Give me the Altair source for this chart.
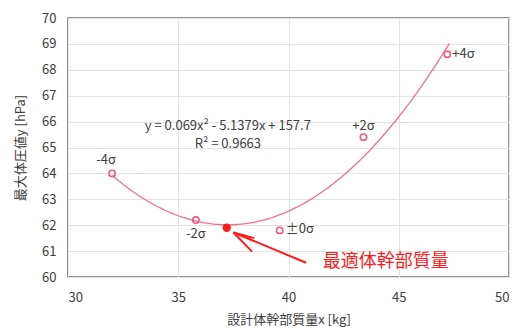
import altair as alt
import pandas as pd

# data
mass_kg = [32.0, 35.8, 39.6, 43.4, 47.2]
pressure_hpa = [64.0, 62.2, 61.8, 65.4, 68.6]
sigma_labels = ["-4σ", "-2σ", "±0σ", "+2σ", "+4σ"]

optimum_x = [37.2]
optimum_y = [61.9]
optimum_label = "最適体幹部質量"

# annotation arrow (data coordinates): shaft start, tip, head ends
arrow_start = [40.8, 60.55]
arrow_tip = [37.5, 61.72]
head_a = [38.45, 61.5]
head_b = [38.35, 60.98]

equation_text = "y = 0.069x² - 5.1379x + 157.7"
r2_text = "R² = 0.9663"

FONT = "Noto Sans CJK JP"
PINK = "#f0708f"
RED = "#ff1a1a"
TXT = "#404040"

df = pd.DataFrame({"x": mass_kg, "y": pressure_hpa, "label": sigma_labels})

xs = alt.Scale(domain=[30, 50], nice=False)
ys = alt.Scale(domain=[60, 70], nice=False)

X = alt.X("x:Q", scale=xs, title="設計体幹部質量x [kg]",
          axis=alt.Axis(values=[30, 35, 40, 45, 50], grid=True))
Y = alt.Y("y:Q", scale=ys, title="最大体圧値y [hPa]",
          axis=alt.Axis(values=list(range(60, 71)), grid=True))

base = alt.Chart(df)

trend = base.transform_regression("x", "y", method="poly", order=2,
                                  extent=[32.0, 47.3]).mark_line(
    color=PINK, strokeWidth=1.3).encode(x=X, y=Y)

points = base.mark_point(shape="circle", filled=False, color="#ee5c85",
                         strokeWidth=1.6, size=40, opacity=1).encode(x=X, y=Y)

offsets = {
    "-4σ": dict(dx=-6, dy=-13, align="center"),
    "-2σ": dict(dx=0, dy=14, align="center"),
    "±0σ": dict(dx=6, dy=-1, align="left"),
    "+2σ": dict(dx=0, dy=-11, align="center"),
    "+4σ": dict(dx=5, dy=0, align="left"),
}
label_layers = []
for lab in sigma_labels:
    o = offsets[lab]
    label_layers.append(
        base.transform_filter(alt.datum.label == lab).mark_text(
            font=FONT, fontSize=13, color=TXT, baseline="middle", **o
        ).encode(x=X, y=Y, text="label:N")
    )

opt_df = pd.DataFrame({"x": optimum_x, "y": optimum_y})
opt = alt.Chart(opt_df).mark_point(shape="circle", filled=True, color=RED,
                                   opacity=1, size=70).encode(x=X, y=Y)

seg_df = pd.DataFrame({
    "x": [arrow_start[0], head_a[0], head_b[0]],
    "y": [arrow_start[1], head_a[1], head_b[1]],
    "x2": [arrow_tip[0]] * 3,
    "y2": [arrow_tip[1]] * 3,
})
arrow = alt.Chart(seg_df).mark_rule(color=RED, strokeWidth=2).encode(
    x=X, y=Y, x2="x2:Q", y2="y2:Q")

ann_df = pd.DataFrame({"x": [41.55], "y": [60.57], "t": [optimum_label]})
ann = alt.Chart(ann_df).mark_text(font=FONT, fontSize=18, color=RED,
                                  align="left", baseline="middle").encode(
    x=X, y=Y, text="t:N")

eq_df = pd.DataFrame({"x": [37.25, 37.25], "y": [65.82, 65.13],
                      "t": [equation_text, r2_text]})
eq = alt.Chart(eq_df).mark_text(font=FONT, fontSize=13, color=TXT,
                                align="center", baseline="middle").encode(
    x=X, y=Y, text="t:N")

chart = alt.layer(trend, points, *label_layers, opt, arrow, ann, eq).properties(
    width=441, height=259,
    padding={"left": 60, "top": 10, "right": 3, "bottom": 52},
    autosize=alt.AutoSizeParams(type="none"),
).configure_view(
    stroke="#707070", strokeWidth=1.5
).configure_axis(
    domain=False, ticks=False, gridColor="#e3e3e3", gridWidth=1,
    labelFont=FONT, labelFontSize=13, labelColor=TXT,
    titleFont=FONT, titleFontSize=13, titleColor=TXT, titleFontWeight="normal",
).configure_axisY(labelPadding=12, titlePadding=14).configure_axisX(
    labelPadding=14, titlePadding=9)

chart.save("out.html", embed_options={"renderer": "svg", "actions": False})
